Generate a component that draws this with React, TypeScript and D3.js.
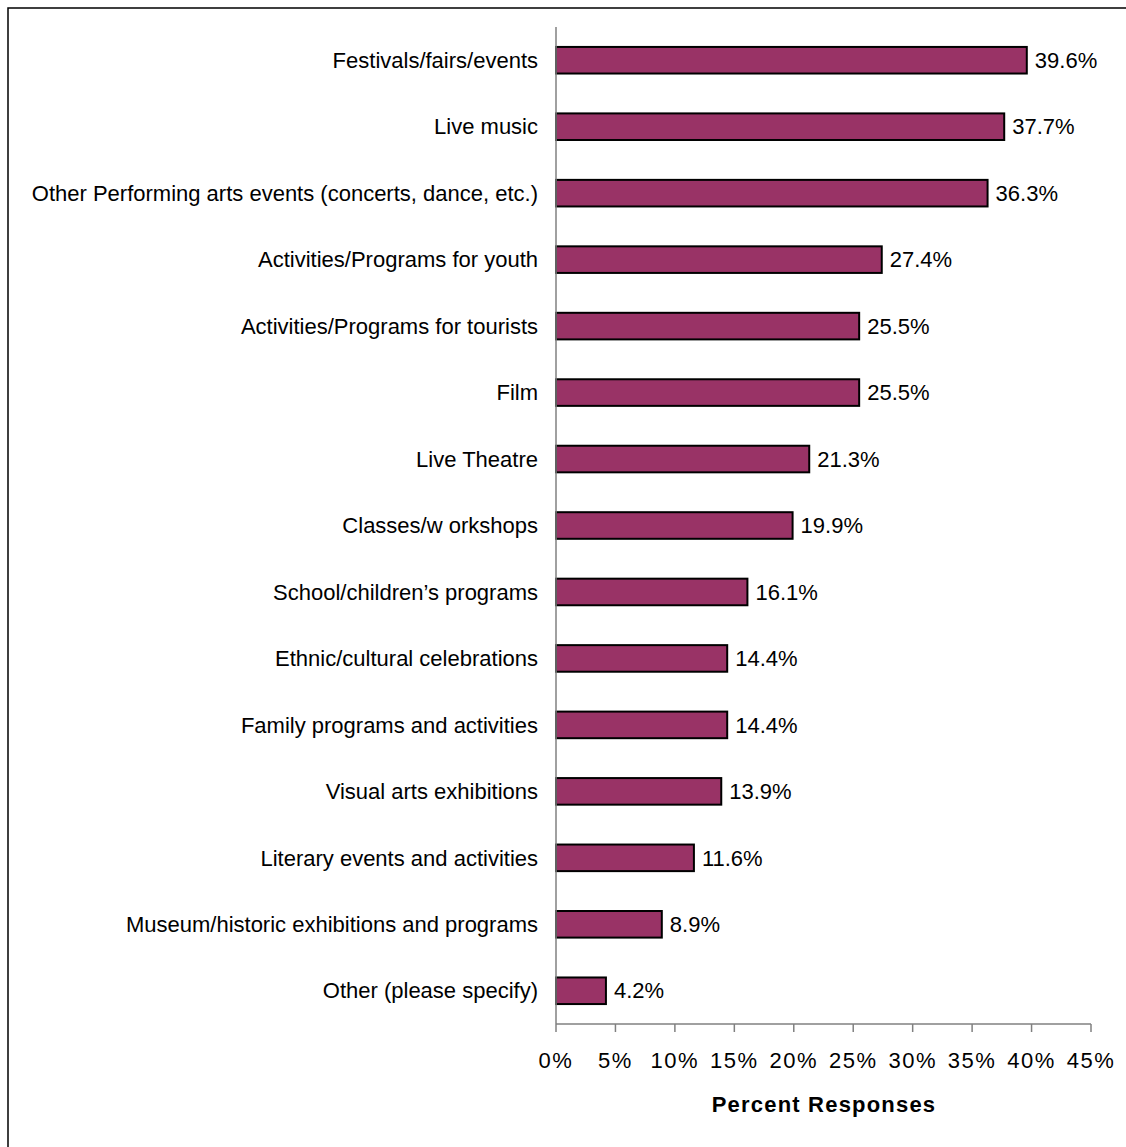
import React from "react";
import * as d3 from "d3";

const categories = [
  "Festivals/fairs/events",
  "Live music",
  "Other Performing arts events (concerts, dance, etc.)",
  "Activities/Programs for youth",
  "Activities/Programs for tourists",
  "Film",
  "Live Theatre",
  "Classes/w orkshops",
  "School/children’s programs",
  "Ethnic/cultural celebrations",
  "Family programs and activities",
  "Visual arts exhibitions",
  "Literary events and activities",
  "Museum/historic exhibitions and programs",
  "Other (please specify)",
];
const values = [39.6, 37.7, 36.3, 27.4, 25.5, 25.5, 21.3, 19.9, 16.1, 14.4, 14.4, 13.9, 11.6, 8.9, 4.2];
const ticks = [0, 5, 10, 15, 20, 25, 30, 35, 40, 45];
const axisTitle = "Percent Responses";

export default function App() {
  const W = 1126, H = 1147;
  const x = d3.scaleLinear().domain([0, 45]).range([556, 1091]);
  const y = d3.scaleBand<string>().domain(categories).range([27, 1024]).paddingInner(0.6).paddingOuter(0.3);
  const font = "Arial, 'Liberation Sans', Helvetica, sans-serif";
  return (
    <svg width={W} height={H} style={{ position: "absolute", left: 0, top: 0 }} fontFamily={font}>
      <rect x={8} y={8} width={W} height={H} fill="#fff" stroke="#000" strokeWidth={1.5} />
      {categories.map((c, i) => (
        <g key={c}>
          <rect x={x(0)} y={y(c)!} width={x(values[i]) - x(0)} height={y.bandwidth()} fill="#993366" stroke="#000" strokeWidth={2} />
          <text x={538} y={y(c)! + y.bandwidth() / 2} dy="0.35em" textAnchor="end" fontSize={22} fill="#000">{c}</text>
          <text x={x(values[i]) + 8} y={y(c)! + y.bandwidth() / 2} dy="0.35em" fontSize={22} fill="#000">{values[i].toFixed(1)}%</text>
        </g>
      ))}
      <line x1={556} x2={556} y1={27} y2={1024} stroke="#808080" strokeWidth={1.5} />
      <line x1={556} x2={1091} y1={1024} y2={1024} stroke="#808080" strokeWidth={1.5} />
      {ticks.map((t) => (
        <g key={t}>
          <line x1={x(t)} x2={x(t)} y1={1024} y2={1032} stroke="#808080" strokeWidth={1.5} />
          <text x={x(t)} y={1068} textAnchor="middle" fontSize={22} letterSpacing={1.5} fill="#000">{t}%</text>
        </g>
      ))}
      <text x={824} y={1112} textAnchor="middle" fontSize={22} letterSpacing={1.2} fontWeight="bold" fill="#000">{axisTitle}</text>
    </svg>
  );
}
